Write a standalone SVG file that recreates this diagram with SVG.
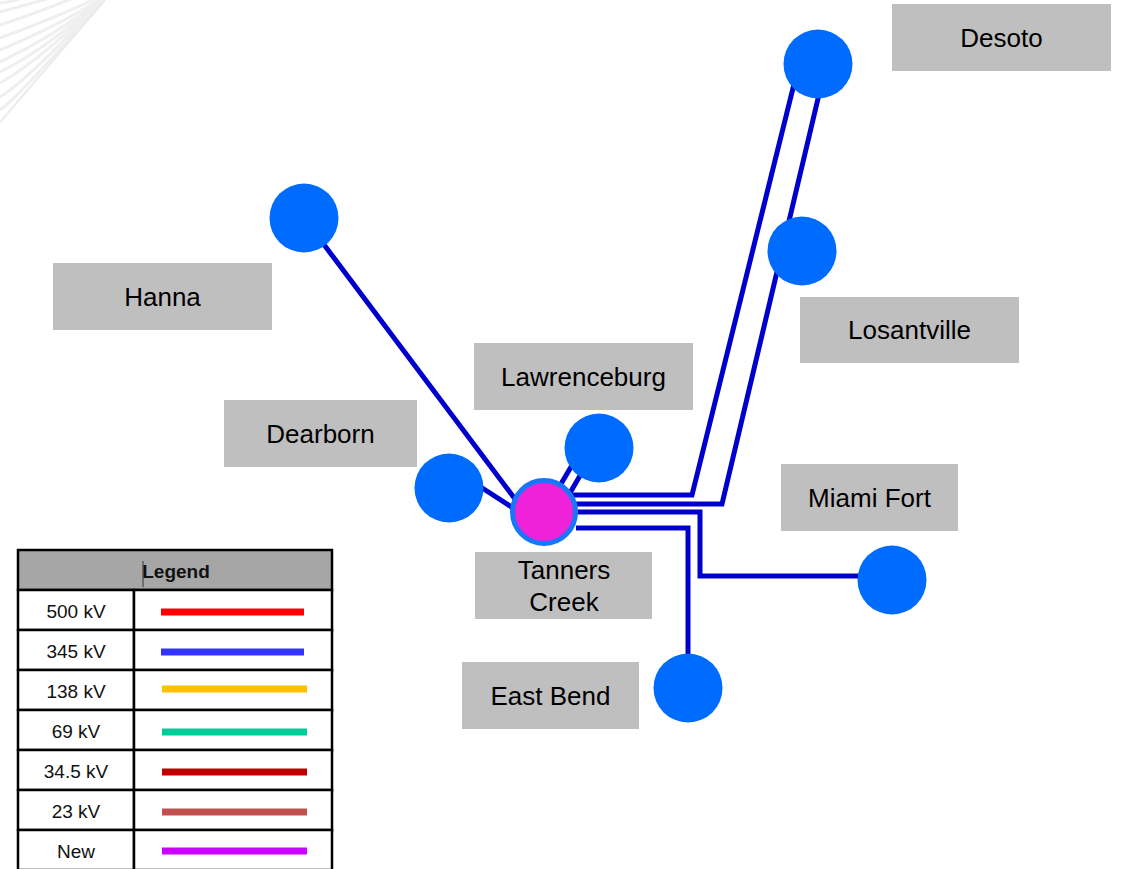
<svg xmlns="http://www.w3.org/2000/svg" width="1122" height="869" viewBox="0 0 1122 869">
<defs>
<style>
.lbl{fill:#BFBFBF}
.lt{font-family:"Liberation Sans",Arial,sans-serif;font-size:26px;fill:#000;text-anchor:middle}
.node{fill:#006BFF}
.line{fill:none;stroke:#0000CC;stroke-width:5;stroke-linejoin:miter}
.sw{fill:none;stroke:#EFEFEF;stroke-width:3}
.lg{font-family:"Liberation Sans",Arial,sans-serif;font-size:19px;fill:#111;text-anchor:middle}
.cell{fill:#fff;stroke:#000;stroke-width:2.5}
.key{stroke-width:7;fill:none}
</style>
</defs>
<rect width="1122" height="869" fill="#fff"/>
<g id="swoosh">
<path class="sw" d="M0 3 Q10 2 20 -1"/>
<path class="sw" d="M0 12 Q30 4 50 -2"/>
<path class="sw" d="M0 25 Q45 10 73 -2"/>
<path class="sw" d="M0 38 Q60 16 97 -2"/>
<path class="sw" d="M0 50 Q62 24 102 -2"/>
<path class="sw" d="M0 62 Q55 36 103 -2"/>
<path class="sw" d="M0 72 Q45 50 103 -2"/>
<path class="sw" d="M0 83 Q38 62 104 -2"/>
<path class="sw" d="M0 97 Q28 80 104 -2"/>
<path class="sw" d="M0 110 Q18 98 105 -2"/>
<path d="M0 122 L105 0" stroke="#EBEBEB" stroke-width="2" fill="none"/>
</g>
<g id="connectors">
<line class="line" x1="304" y1="218" x2="515" y2="499"/>
<line class="line" x1="476" y1="484" x2="516" y2="510"/>
<line class="line" x1="578" y1="455" x2="558" y2="489"/>
<line class="line" x1="588" y1="462" x2="567" y2="498"/>
<polyline class="line" points="566,495 692,495 797,72"/>
<polyline class="line" points="574,504 722,504 821,86"/>
<polyline class="line" points="576,512 700,512 700,576 862,576"/>
<polyline class="line" points="576,528 688,528 688,660"/>
</g>
<g id="desoto"><rect class="lbl" x="892" y="4" width="219" height="67"/><text class="lt" x="1001.5" y="47">Desoto</text><circle class="node" cx="818" cy="64" r="34.5"/></g>
<g id="losantville"><rect class="lbl" x="800" y="297" width="219" height="66"/><text class="lt" x="909.5" y="339">Losantville</text><circle class="node" cx="802" cy="251" r="34.5"/></g>
<g id="hanna"><rect class="lbl" x="53" y="263" width="219" height="67"/><text class="lt" x="162.5" y="306">Hanna</text><circle class="node" cx="304" cy="218" r="34.5"/></g>
<g id="lawrenceburg"><rect class="lbl" x="474" y="343" width="219" height="67"/><text class="lt" x="583.5" y="386">Lawrenceburg</text><circle class="node" cx="599" cy="448" r="34.5"/></g>
<g id="dearborn"><rect class="lbl" x="224" y="400" width="193" height="67"/><text class="lt" x="320.5" y="443">Dearborn</text><circle class="node" cx="449" cy="488" r="34.5"/></g>
<g id="miami-fort"><rect class="lbl" x="781" y="464" width="177" height="67"/><text class="lt" x="869.5" y="507">Miami Fort</text><circle class="node" cx="892" cy="580" r="34.5"/></g>
<g id="east-bend"><rect class="lbl" x="462" y="662" width="177" height="67"/><text class="lt" x="550.5" y="705">East Bend</text><circle class="node" cx="688" cy="688" r="34.5"/></g>
<g id="tanners-creek"><rect class="lbl" x="475" y="552" width="177" height="67"/><text class="lt" x="564" y="579">Tanners</text><text class="lt" x="564" y="611">Creek</text><circle cx="544" cy="512" r="31.5" fill="#EE22D8" stroke="#1877F8" stroke-width="5"/></g>
<g id="legend">
<rect x="18" y="550" width="314" height="40" fill="#A6A6A6" stroke="#000" stroke-width="2.5"/>
<line x1="143" y1="561" x2="143" y2="587" stroke="#333" stroke-width="1"/>
<text class="lg" x="176" y="578" font-weight="bold" font-size="18">Legend</text>
<rect class="cell" x="18" y="590" width="116" height="40"/><rect class="cell" x="134" y="590" width="198" height="40"/>
<rect class="cell" x="18" y="630" width="116" height="40"/><rect class="cell" x="134" y="630" width="198" height="40"/>
<rect class="cell" x="18" y="670" width="116" height="40"/><rect class="cell" x="134" y="670" width="198" height="40"/>
<rect class="cell" x="18" y="710" width="116" height="40"/><rect class="cell" x="134" y="710" width="198" height="40"/>
<rect class="cell" x="18" y="750" width="116" height="40"/><rect class="cell" x="134" y="750" width="198" height="40"/>
<rect class="cell" x="18" y="790" width="116" height="40"/><rect class="cell" x="134" y="790" width="198" height="40"/>
<rect class="cell" x="18" y="830" width="116" height="40"/><rect class="cell" x="134" y="830" width="198" height="40"/>
<text class="lg" x="76" y="618">500 kV</text>
<text class="lg" x="76" y="658">345 kV</text>
<text class="lg" x="76" y="698">138 kV</text>
<text class="lg" x="76" y="738">69 kV</text>
<text class="lg" x="76" y="778">34.5 kV</text>
<text class="lg" x="76" y="818">23 kV</text>
<text class="lg" x="76" y="858">New</text>
<line class="key" x1="161" y1="612" x2="304" y2="612" stroke="#FF0000"/>
<line class="key" x1="161" y1="652" x2="304" y2="652" stroke="#3333FF"/>
<line class="key" x1="162" y1="689" x2="307" y2="689" stroke="#FFC000"/>
<line class="key" x1="162" y1="732" x2="307" y2="732" stroke="#00CC99"/>
<line class="key" x1="162" y1="772" x2="307" y2="772" stroke="#C00000"/>
<line class="key" x1="162" y1="812" x2="307" y2="812" stroke="#C0504D"/>
<line class="key" x1="162" y1="851" x2="307" y2="851" stroke="#CC00FF"/>
</g>
</svg>
